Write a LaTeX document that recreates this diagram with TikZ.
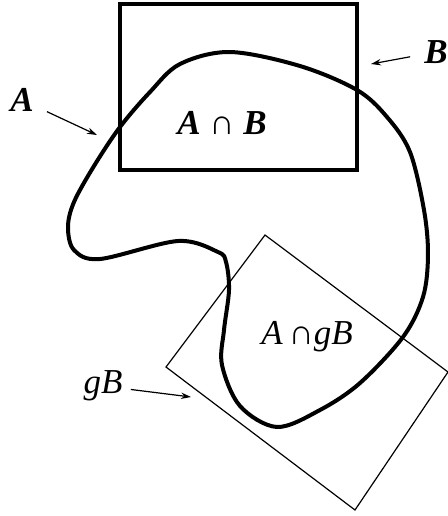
\documentclass[tikz,border=0pt]{standalone}
\usepackage{fontspec}
\setmainfont{Liberation Serif}
\usetikzlibrary{arrows.meta}

\begin{document}
\begin{tikzpicture}[x=0.5pt,y=-0.5pt,>={Stealth[length=5pt,width=3.2pt]},
  lab/.style={font=\fontsize{17.5}{21}\selectfont,inner sep=1pt},
  pointer/.style={->,line width=0.6pt,shorten <=6pt}]
  \useasboundingbox (0,0) rectangle (448,516);
  % the set A
  \draw[line width=2pt] plot[smooth cycle,tension=0.55] coordinates {
    (230,52)(300,66)(357,90)(387,117)(410,152)(424,210)(428,255)
    (423,297)(403,337)(360,383)(320,410)(277,427)(240,406)(222,365)
    (224,330)(229,290)(226,262)(218,252)(178,241)(100,259)
    (74,250)(68,227)(74,202)(94,166)(120,127)(150,92)(180,64)
  };
  % B and its translate gB
  \draw[line width=1.6pt] (120,4) rectangle (357,170);
  \draw[line width=0.6pt] (265,235) -- (448,372) -- (355,510) -- (166,367) -- cycle;
  % labels
  \node[lab] (labAB) at (222,123) {\textbf{\textit{A}} \textbf{∩} \textbf{\textit{B}}};
  \node[lab] (labAgB) at (307,337) {\textit{A}\,∩\textit{gB}};
  \node[lab] (labA) at (22,100) {\textbf{\textit{A}}};
  \node[lab] (labB) at (436,52) {\textbf{\textit{B}}};
  \node[lab] (labgB) at (103,386) {\textit{gB}};
  % arrows
  \coordinate (tipA) at (97,135);
  \coordinate (tipB) at (371,64);
  \coordinate (tipgB) at (191,397);
  \draw[pointer] (labA) -- (tipA);
  \draw[pointer] (labB) -- (tipB);
  \draw[pointer,shorten <=3pt] (labgB) -- (tipgB);
\end{tikzpicture}
\end{document}
